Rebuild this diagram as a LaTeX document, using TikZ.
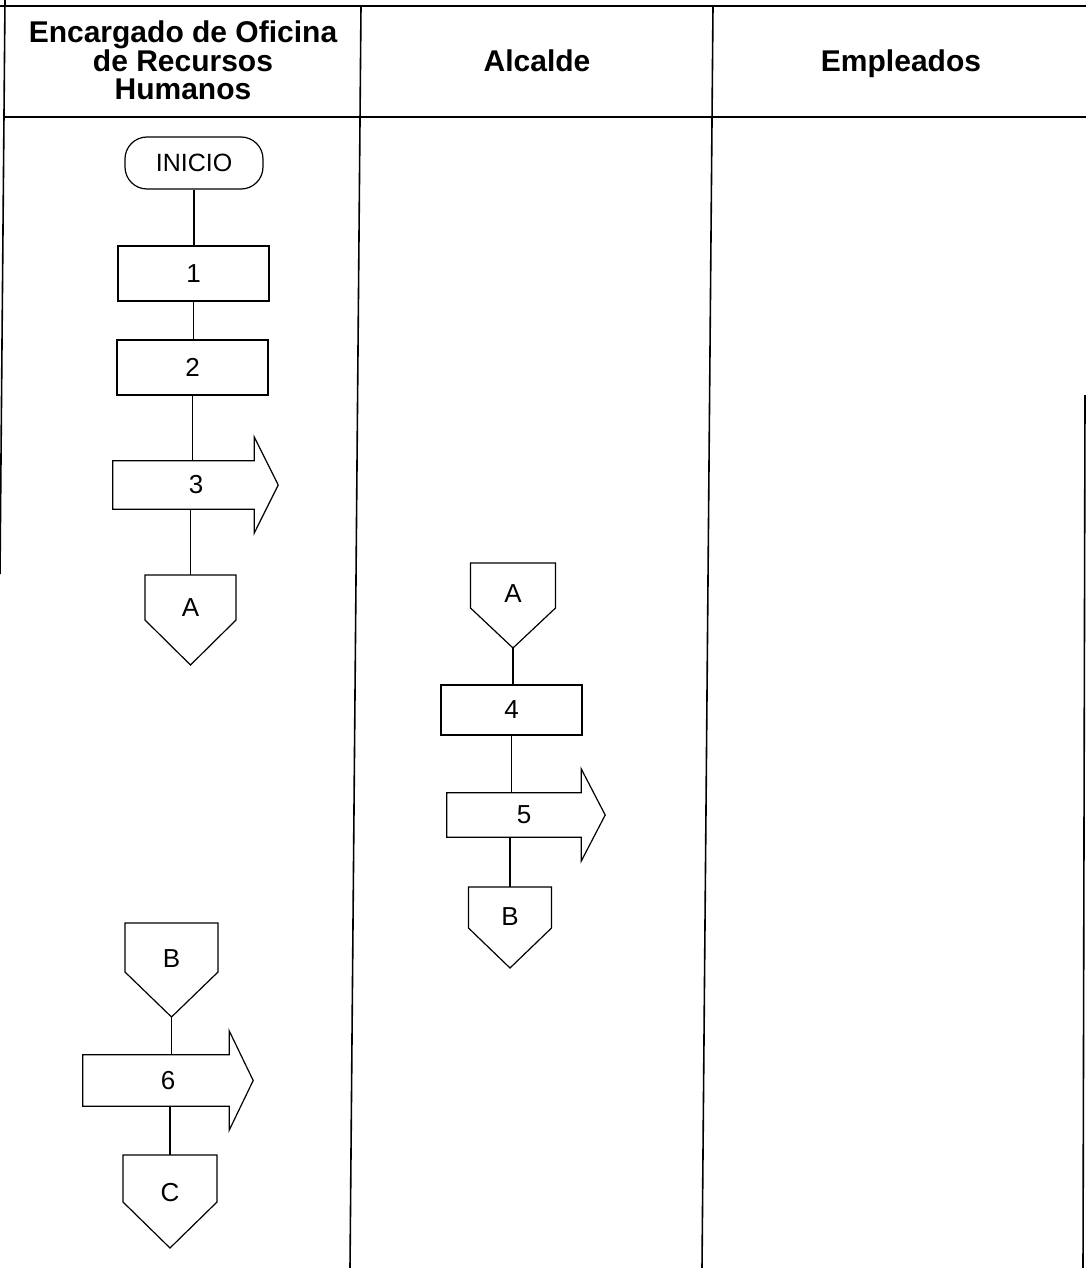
\documentclass[tikz,border=0pt]{standalone}
\usepackage{fontspec}
\setmainfont{Liberation Sans}
\usetikzlibrary{calc}
\newcommand{\arrbox}[7]{% name, cx, cy, width, height, label x, label
  \node[body, minimum width=#4pt, minimum height=#5pt] (#1) at (#2,#3) {};
  \node[lbl] (#1t) at (#6,#3) {#7};
  \draw[shp] (#1.north west) -- (#1.north east) -- ($(#1.north east)+(0,-24)$)
     -- ($(#1.east)+(24,0)$) -- ($(#1.south east)+(0,24)$) -- (#1.south east)
     -- (#1.south west) -- cycle;
}
\newcommand{\offpg}[8]{% name, cx, top y, half width, side drop, tip drop, label dy, label
  \coordinate (#1) at (#2,#3);
  \draw[shp] ($(#1)+(-#4,0)$) -- ($(#1)+(#4,0)$) -- ($(#1)+(#4,#5)$)
     -- ($(#1)+(0,#6)$) -- ($(#1)+(-#4,#5)$) -- cycle;
  \coordinate (#1tip) at ($(#1)+(0,#6)$);
  \node[lbl] (#1t) at ($(#1)+(0,#7)$) {#8};
}
\begin{document}
\begin{tikzpicture}[x=1pt,y=-1pt,
  tbl/.style={line width=1.6pt},
  shp/.style={line width=1.2pt, line join=miter},
  link/.style={line width=1.2pt},
  hdr/.style={font=\fontsize{30}{27.5}\selectfont\bfseries, align=center, inner sep=0pt},
  lbl/.style={font=\fontsize{26}{28}\selectfont, inner sep=0pt},
  body/.style={inner sep=0pt},
  boxn/.style={draw, line width=1.2pt, minimum width=151pt, minimum height=55pt, inner sep=0pt, font=\fontsize{26}{28}\selectfont}]
\useasboundingbox (0,0) rectangle (1086,1268);
% table
\draw[tbl] (0,6) -- (1086,6);
\draw[tbl] (5,117) -- (1086,117);
\draw[tbl] (5,0) -- (0,574);
\draw[tbl] (361,6) -- (350,1268);
\draw[tbl] (713,6) -- (702,1268);
\draw[tbl] (1085,395) -- (1083,1268);
% headers
\node[hdr] (h1) at (183,60) {Encargado de Oficina\\de Recursos\\Humanos};
\node[hdr, anchor=base] (h2) at (537,72) {Alcalde};
\node[hdr, anchor=base] (h3) at (901,72) {Empleados};
% lane 1
\node[draw, shp, rounded corners=22pt, minimum width=138pt, minimum height=52pt, inner sep=0pt, font=\fontsize{25}{27}\selectfont] (ini) at (194,163) {INICIO};
\node[boxn] (n1) at (193.5,273.5) {1};
\node[boxn] (n2) at (192.5,367.5) {2};
\arrbox{b3}{183.5}{485}{141}{48}{196}{3}
\offpg{A1}{190.5}{575}{45.5}{45}{90}{33}{A}
% lane 2
\offpg{A2}{513}{563}{42.5}{45}{85}{31}{A}
\node[boxn, minimum width=141pt, minimum height=50pt] (n4) at (511.5,710) {4};
\arrbox{b5}{514}{815}{134}{44}{524}{5}
\offpg{B2}{510}{887}{41.5}{41}{81}{30}{B}
% lane 1 bottom
\offpg{B1}{171.5}{923}{46.5}{49}{94}{36}{B}
\arrbox{b6}{156}{1080.5}{146}{51}{168}{6}
\offpg{C}{170}{1155}{47}{47}{93}{38}{C}
% connectors
\draw[link] (ini.south) -- (ini.south |- n1.north);
\draw[link] (n1.south) -- (n1.south |- n2.north);
\draw[link] (n2.south) -- (n2.south |- b3.north);
\draw[link] (A1 |- b3.south) -- (A1);
\draw[link] (A2tip) -- (A2tip |- n4.north);
\draw[link] (n4.south) -- (n4.south |- b5.north);
\draw[link] (B2 |- b5.south) -- (B2);
\draw[link] (B1tip) -- (B1tip |- b6.north);
\draw[link] (C |- b6.south) -- (C);
\end{tikzpicture}
\end{document}
